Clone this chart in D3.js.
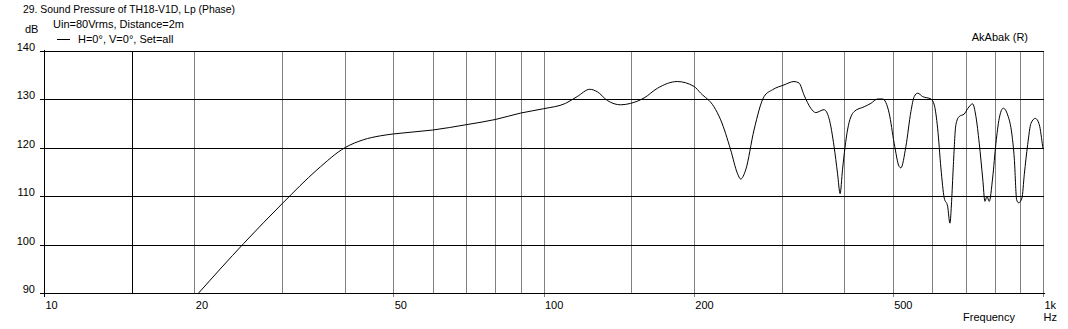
<!DOCTYPE html>
<html>
<head>
<meta charset="utf-8">
<script src="https://cdn.jsdelivr.net/npm/d3@7"></script>
<style>
  body { margin: 0; background: #fff; }
  svg { display: block; }
  text { font-family: "Liberation Sans", Arial, sans-serif; font-size: 11px; fill: #000; }
</style>
</head>
<body>
<svg id="chart" width="1068" height="329"></svg>
<script>
// frequency response (Hz, dB)
const freq = [20.4, 25.1, 30.1, 35.2, 40.1, 43.6, 47.1, 50.1, 60, 70, 80.3, 90, 100.1,
  110.7, 116.8, 123.8, 128.1, 134.2, 142.7, 149.4, 158.9, 169, 185.3, 200.1, 206.4,
  219.4, 226.3, 237, 244.4, 248.2, 254, 263.9, 276.4, 287.3, 303, 317.4, 324.8, 332.4,
  342.8, 350.8, 364.5, 372.9, 381.7, 387.8, 392.5, 396.8, 406.1, 418.6, 438.5, 452.3,
  466.5, 477.4, 492, 503.5, 515.2, 519.3, 531.5, 543.9, 552.3, 561.1, 574.2, 596.6,
  605.7, 615.2, 624.6, 634.2, 644.2, 651.1, 656.2, 661.1, 669.3, 679.6, 695.5, 706.5,
  722.9, 734, 745.3, 757.2, 765.2, 772.3, 780.5, 792.8, 805, 817.3, 832.5, 849.8,
  866.7, 876, 885.7, 893.9, 907.6, 917.3, 931.8, 946.2, 965.2, 983.1, 998.6, 1000];
const spl = [90, 100.2, 108.6, 115.4, 120, 121.6, 122.4, 122.8, 123.6, 124.7, 125.8, 127.1, 128,
  129.1, 130.5, 132, 131.5, 129.7, 128.8, 129.1, 130.2, 132.2, 133.6, 132.6, 131.2,
  128.4, 125.7, 119.5, 114.7, 113.5, 115.4, 123.6, 130.5, 131.9, 132.9, 133.6, 133.3, 130.8,
  128.1, 127.2, 127.8, 126, 120.2, 114.7, 110.5, 115.4, 123.6, 127.4, 128.4, 129.1,
  130, 130, 127.1, 120.9, 116.1, 115.8, 120.2, 127.4, 130.5, 131.2, 130.5, 130,
  128.8, 124, 115.8, 109.6, 107.9, 104.4, 108.9, 115.8, 124.7, 126.4, 126.9, 128,
  129, 126.4, 120.9, 113.7, 108.9, 109.9, 108.9, 113.7, 120.9, 126, 128.1, 126.7,
  122.6, 117.8, 109.2, 108.6, 109.6, 114.4, 120.6, 125, 126, 124.7, 120.2, 119.8];

const dbTicks = [90, 100, 110, 120, 130, 140];
const freqLabels = [10, 20, 50, 100, 200, 500, 1000];
const freqLabelText = ["10", "20", "50", "100", "200", "500", "1k"];
const freqTicks = [10, 50, 100, 200, 500, 1000];
const gridFreqs = [20, 30, 40, 50, 60, 70, 80, 90, 100, 150, 200, 300, 400, 500, 600, 700, 800, 900, 1000];
const markerFreq = 15;

const svg = d3.select("#chart");
const x = d3.scaleLog().domain([10, 1000]).range([44, 1043]);
const y = d3.scaleLinear().domain([90, 140]).range([293, 50.5]);
const px = v => Math.round(v) + 0.5;

const grid = svg.append("g").attr("shape-rendering", "crispEdges");

// vertical grid
grid.selectAll(".vg").data(gridFreqs).join("line")
  .attr("x1", d => px(x(d))).attr("x2", d => px(x(d)))
  .attr("y1", px(y(140))).attr("y2", px(y(90)))
  .attr("stroke", "#808080");
grid.append("line")
  .attr("x1", px(x(markerFreq))).attr("x2", px(x(markerFreq)))
  .attr("y1", px(y(140))).attr("y2", px(y(90)))
  .attr("stroke", "#000");

// horizontal grid + y ticks
grid.selectAll(".hg").data(dbTicks).join("line")
  .attr("x1", 40).attr("x2", px(x(1000)))
  .attr("y1", d => px(y(d))).attr("y2", d => px(y(d)))
  .attr("stroke", "#000");

// x ticks below axis
grid.selectAll(".xt").data(freqTicks).join("line")
  .attr("x1", d => px(x(d))).attr("x2", d => px(x(d)))
  .attr("y1", px(y(90))).attr("y2", px(y(90)) + 3)
  .attr("stroke", d => d === 10 ? "#000" : "#808080");

// y axis line
grid.append("line")
  .attr("x1", px(x(10))).attr("x2", px(x(10)))
  .attr("y1", px(y(140)) - 2).attr("y2", px(y(90)) + 3)
  .attr("stroke", "#000");
grid.append("line")
  .attr("x1", 40).attr("x2", 1045)
  .attr("y1", px(y(90))).attr("y2", px(y(90)))
  .attr("stroke", "#000");

// y labels
svg.selectAll(".yl").data(dbTicks).join("text")
  .attr("x", 35).attr("y", d => Math.round(y(d)))
  .attr("text-anchor", "end")
  .text(d => d);

// x labels
svg.selectAll(".xl").data(freqLabels).join("text")
  .attr("x", d => x(d) + 1.5).attr("y", 309)
  .text((d, i) => freqLabelText[i]);

svg.append("text").attr("x", 1043.5).attr("y", 321).text("Hz");
svg.append("text").attr("x", 1015).attr("y", 321).attr("text-anchor", "end").text("Frequency");
svg.append("text").attr("x", 25).attr("y", 33).text("dB");
svg.append("text").attr("x", 23).attr("y", 13)
  .attr("textLength", 212).attr("lengthAdjust", "spacingAndGlyphs")
  .text("29. Sound Pressure of TH18-V1D, Lp (Phase)");
svg.append("text").attr("x", 53).attr("y", 28).text("Uin=80Vrms, Distance=2m");
svg.append("text").attr("x", 78).attr("y", 43).text("H=0°, V=0°, Set=all");
svg.append("text").attr("x", 1028).attr("y", 41).attr("text-anchor", "end").text("AkAbak (R)");
svg.append("line").attr("x1", 57).attr("x2", 70).attr("y1", 39.5).attr("y2", 39.5)
  .attr("stroke", "#000").attr("shape-rendering", "crispEdges");

// response curve
const pts = freq.map((f, i) => [f, spl[i]]);
svg.append("path")
  .datum(pts)
  .attr("fill", "none")
  .attr("stroke", "#000")
  .attr("stroke-width", 1)
  .attr("d", d3.line()
    .x(d => x(d[0]))
    .y(d => y(d[1]))
    .curve(d3.curveMonotoneX));
</script>
</body>
</html>
